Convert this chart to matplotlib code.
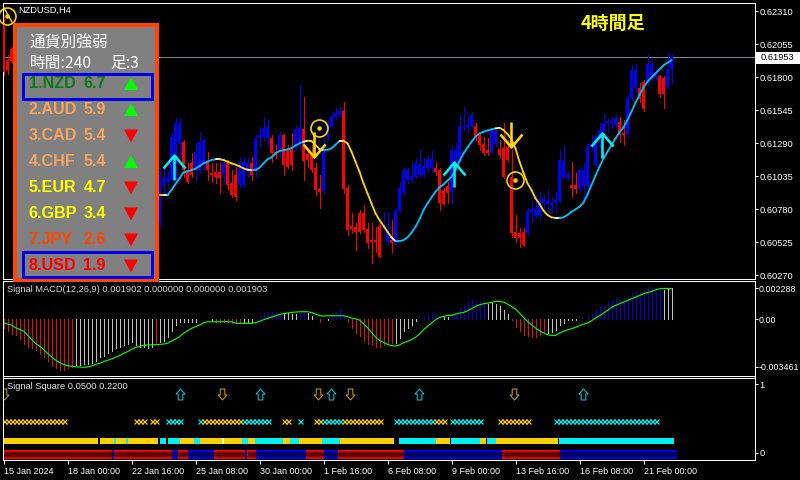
"""NZDUSD H4 チャート: ローソク足 + シグナル線 + MACD + Signal Square + 通貨別強弱パネル."""
import numpy as np
import matplotlib
matplotlib.use("Agg")
import matplotlib.pyplot as plt
from matplotlib.collections import LineCollection
from matplotlib.path import Path
from matplotlib.patches import Rectangle, Polygon

plt.rcParams["font.family"] = ["Liberation Sans", "DejaVu Sans"]
JP = ["Noto Sans CJK JP", "DejaVu Sans"]

# ---------------------------------------------------------------- data
# price is in 1e-5 units; bars 3..38 sit behind the panel and could not be read
head_open = [62217, 61931, 62016]
head_close = [61839, 61854, 61924]
head_high = [62279, 61970, 62034]
head_low = [61815, 61823, 61906]

candle_open = [
    60669, 60965, 60991, 61004, 61184, 61287, 61300, 61081, 61133, 61081, 61081, 61133, 61133, 61056,
    61068, 61068, 61043, 61133, 60978, 61043, 60965, 60965, 61081, 61133, 61081, 61326, 61339, 61326,
    61326, 61223, 61223, 61351, 61235, 61248, 61248, 61287, 61395, 61202, 61197, 61099, 60932, 60921,
    61333, 61416, 61488, 61506, 61537, 60939, 60648, 60643, 60746, 60746, 60625, 60540, 60540, 60651,
    60630, 60527, 60540, 60514, 60767, 60901, 61004, 61004, 61030, 61042, 61042, 61094, 61094, 61099,
    61081, 60919, 60957, 60914, 61145, 61163, 61416, 61416, 61424, 61424, 61351, 61282, 61235, 61223,
    61282, 61243, 61248, 61256, 61030, 60602, 60597, 60604, 60597, 60759, 60726, 60726, 60829, 60819,
    60811, 60824, 60842, 61025, 61022, 60965, 60965, 60932, 60958, 60958, 61262, 61120, 61326, 61378,
    61442, 61442, 61429, 61455, 61365, 61357, 61635, 61712, 61718, 61764, 61751, 61815, 61797, 61810,
    61795, 61720, 61859,
]
candle_close = [
    61043, 61017, 61017, 61339, 61442, 61442, 61081, 60991, 61043, 61223, 61300, 61313, 61081, 61043,
    61030, 61017, 61133, 60965, 60888, 60875, 61133, 61146, 61133, 61043, 61326, 61352, 61403, 61416,
    61210, 61197, 61351, 61120, 61107, 61120, 61395, 61403, 61150, 61158, 61081, 60926, 60914, 61261,
    61421, 61498, 61519, 61537, 60934, 60617, 60622, 60604, 60604, 60617, 60514, 60527, 60527, 60411,
    60656, 60622, 60514, 60772, 60939, 61081, 61081, 61035, 61133, 61125, 61112, 61166, 61166, 61068,
    60823, 60818, 60901, 61235, 61235, 61421, 61424, 61429, 61506, 61333, 61274, 61210, 61215, 61382,
    61382, 61197, 61030, 61158, 60592, 60553, 60553, 60501, 60764, 60777, 60777, 60855, 60855, 60850,
    60829, 60850, 61159, 61151, 61050, 60945, 60935, 61081, 61081, 61269, 61282, 61326, 61390, 61442,
    61460, 61460, 61486, 61352, 61352, 61635, 61854, 61854, 61627, 61550, 61900, 61900, 61828, 61666,
    61666, 61862, 61952,
]
candle_high = [
    61094, 61094, 61068, 61365, 61481, 61481, 61313, 61133, 61210, 61287, 61378, 61326, 61223, 61133,
    61133, 61133, 61184, 61159, 61081, 61107, 61184, 61184, 61172, 61184, 61352, 61416, 61493, 61468,
    61351, 61274, 61364, 61359, 61274, 61364, 61429, 61738, 61648, 61248, 61274, 61133, 61042, 61326,
    61467, 61532, 61570, 61570, 61609, 60965, 60746, 60669, 60772, 60810, 60669, 60669, 60643, 60669,
    60759, 60759, 60695, 60785, 60991, 61107, 61094, 61133, 61171, 61235, 61171, 61197, 61235, 61145,
    61094, 60939, 60991, 61274, 61287, 61506, 61570, 61498, 61532, 61442, 61364, 61339, 61326, 61403,
    61403, 61313, 61442, 61313, 61235, 60733, 60630, 60630, 60785, 60850, 60888, 60914, 60888, 60927,
    60875, 60914, 61236, 61269, 61068, 61146, 61056, 61107, 61133, 61287, 61352, 61352, 61442, 61514,
    61481, 61493, 61506, 61493, 61468, 61661, 61893, 61898, 61751, 61777, 61970, 61931, 61867, 61815,
    61808, 61983, 61978,
]
candle_low = [
    60631, 60901, 60953, 60991, 61004, 61184, 61030, 60978, 61030, 61004, 61056, 61081, 61004, 60991,
    60978, 60901, 60978, 60927, 60875, 60850, 60953, 60953, 61030, 61004, 61030, 61262, 61313, 61262,
    61145, 61171, 61184, 61042, 61094, 61081, 61235, 61248, 61004, 61107, 61068, 60888, 60790, 60901,
    61313, 61403, 61467, 61498, 60901, 60579, 60592, 60463, 60592, 60604, 60476, 60365, 60450, 60406,
    60604, 60514, 60450, 60509, 60759, 60888, 60978, 60991, 61017, 61030, 61030, 61068, 61068, 61042,
    60772, 60810, 60823, 60829, 61133, 61145, 61390, 61364, 61403, 61313, 61235, 61197, 61197, 61210,
    61266, 61184, 61017, 61145, 60566, 60527, 60489, 60494, 60579, 60690, 60721, 60695, 60747, 60721,
    60747, 60759, 60837, 61017, 61004, 60875, 60901, 60922, 60855, 60953, 61236, 61115, 61262, 61365,
    61378, 61403, 61416, 61300, 61274, 61339, 61622, 61687, 61609, 61540, 61738, 61777, 61777, 61648,
    61563, 61712, 61756,
]

# signal line from bar 39 on
signal_line = [
    60888, 60888, 60888, 60927, 60973, 61017, 61063, 61071, 61081, 61092, 61112, 61133, 61146, 61159,
    61164, 61164, 61159, 61146, 61133, 61123, 61110, 61094, 61084, 61081, 61081, 61099, 61133, 61164,
    61179, 61210, 61228, 61235, 61241, 61251, 61272, 61287, 61300, 61308, 61305, 61274, 61243, 61235,
    61238, 61248, 61277, 61305, 61308, 61287, 61223, 61145, 61068, 60978, 60901, 60823, 60746, 60695,
    60651, 60604, 60561, 60532, 60532, 60540, 60561, 60597, 60643, 60700, 60772, 60823, 60870, 60914,
    60947, 60970, 60999, 61030, 61081, 61150, 61210, 61256, 61300, 61339, 61364, 61377, 61387, 61395,
    61403, 61408, 61390, 61359, 61318, 61248, 61145, 61060, 60978, 60927, 60862, 60819, 60767, 60734,
    60716, 60710, 60710, 60716, 60734, 60759, 60777, 60798, 60829, 60893, 60965, 61038, 61107, 61172,
    61223, 61275, 61326, 61372, 61411, 61468, 61532, 61602, 61661, 61720, 61764, 61797, 61828, 61859,
    61890, 61911, 61931,
]
signal_runs = [("g", 2), ("w", 1), ("c", 12), ("w", 1), ("g", 7), ("w", 1), ("c", 13), ("w", 1),
               ("g", 3), ("w", 1), ("c", 4), ("w", 1), ("g", 12), ("w", 1), ("c", 25), ("w", 1),
               ("g", 14), ("w", 1), ("c", 28)]

up_arrows_bar = [42.5, 112.6, 149.5]
up_arrows_tip = [61197, 61146, 61367]
down_arrows_bar = [77.7, 126.8]
down_arrows_tip = [61184, 61259]
ring_bar = [0.9, 78.9, 127.9]
ring_price = [62271, 61406, 61004]

last_price = 0.61953
price_ticks = [0.62310, 0.62055, 0.61800, 0.61545, 0.61290, 0.61035, 0.60780, 0.60525, 0.60270]

# MACD, 1e-6 units
macd_hist = [
    -632, -826, -1045, -1142, -1458, -1774, -1993, -2114, -2211, -2503,
    -2746, -3038, -3378, -3524, -3694, -3694, -3524, -3475, -3329, -3329,
    -3281, -3232, -3208, -3038, -2722, -2649, -2479, -2309, -2114, -1993,
    -1871, -1823, -1628, -1871, -1993, -1993, -2066, -1993, -1823, -1628,
    -1555, -1264, -826, -413, -219, -170, -170, -219, -170, 24,
    0, 0, -97, -170, -170, -170, -219, -243, -292, -243,
    -170, -170, -170, 0, 243, 486, 535, 559, 510, 559,
    486, 437, 365, 365, 486, 535, 486, 267, 0, -219,
    0, -73, 267, 559, 802, 316, -219, -656, -1021, -1191,
    -1555, -1798, -1871, -2041, -1993, -1871, -1798, -1750, -1750, -1385,
    -875, -632, -389, -146, 0, 146, 340, 462, 462, 219,
    146, 146, 389, 510, 826, 948, 1264, 1434, 1434, 1361,
    1069, 1118, 1191, 1118, 948, 656, 413, -24, -559, -875,
    -1166, -1239, -1288, -1288, -1118, -996, -996, -923, -753, -437,
    -267, -73, -73, -24, 0, 0, 219, 462, 656, 875,
    1069, 1312, 1385, 1555, 1434, 1434, 1604, 1993, 1993, 1993,
    2114, 2333, 2333, 2211, 2284, 2163, 2211, 2284,
]
hist_runs = [("r", 18), ("s", 20), ("r", 1), ("s", 10), ("b", 1), ("s", 2), ("s", 1), ("r", 7),
             ("s", 4), ("b", 6), ("s", 4), ("b", 2), ("s", 3), ("r", 1), ("s", 2), ("b", 4),
             ("r", 12), ("s", 7), ("b", 5), ("s", 2), ("b", 9), ("s", 6), ("r", 9), ("s", 10),
             ("b", 19), ("s", 3)]
macd_line = [
    -243, -340, -413, -608, -729, -851, -1142, -1458, -1750, -1944,
    -2187, -2479, -2722, -2965, -3159, -3281, -3378, -3426, -3451, -3475,
    -3499, -3475, -3402, -3281, -3208, -3086, -2989, -2892, -2770, -2649,
    -2479, -2357, -2187, -2041, -1968, -1895, -1871, -1847, -1847, -1823,
    -1798, -1750, -1580, -1434, -1264, -1021, -826, -656, -535, -413,
    -243, -170, -170, -170, -170, -170, -170, -170, -267, -292,
    -292, -292, -292, -243, -146, -24, 73, 170, 267, 365,
    413, 462, 510, 535, 559, 559, 559, 510, 389, 267,
    243, 267, 267, 267, 267, 267, 194, 97, 49, -49,
    -316, -608, -948, -1288, -1531, -1677, -1823, -1920, -1944, -1871,
    -1701, -1604, -1482, -1312, -1069, -753, -510, -267, -24, 146,
    219, 292, 292, 389, 462, 510, 632, 778, 948, 1069,
    1142, 1191, 1239, 1312, 1312, 1264, 1118, 948, 753, 462,
    146, -146, -389, -632, -826, -996, -1118, -1166, -1166, -996,
    -875, -753, -680, -583, -462, -340, -267, -97, 97, 267,
    462, 656, 875, 1021, 1142, 1264, 1385, 1507, 1628, 1750,
    1871, 1968, 2041, 2163, 2236, 2260, 2260, 2236,
]
macd_ticks = [0.002288, 0.0, -0.003461]
macd_ticklabels = ["0.002288", "0.00", "-0.003461"]

# Signal Square
sq_up = [44, 64, 81.8, 103.9, 144.9]
sq_down = [0, 54.5, 78.6, 86.5, 127.6]
sq_x_runs = [("g", 0, 15), ("g", 33, 35), ("g", 37, 38), ("c", 41, 44), ("c", 49, 49), ("g", 50, 59),
             ("c", 60, 61), ("c", 62, 66), ("g", 70, 71), ("c", 74, 74), ("g", 78, 79), ("c", 80, 84),
             ("g", 85, 94), ("c", 98, 107), ("g", 108, 110), ("c", 112, 119), ("g", 124, 131),
             ("c", 138, 142), ("c", 143, 144), ("c", 145, 154), ("c", 155, 163)]
sq_band_runs = [("g", -0.2, 23.7), ("g", 24.1, 27.5), ("c", 27.7, 28.1), ("g", 28.1, 30.6),
                ("c", 30.6, 31.1), ("g", 31.1, 38.7), ("c", 39.1, 40.6), ("c", 41, 44.1),
                ("g", 44.1, 47.6), ("c", 47.6, 49.1), ("g", 49.1, 54.5), ("w", 54.5, 55.1),
                ("g", 55.1, 59.7), ("c", 59.7, 61.2), ("g", 61.2, 62.9), ("c", 62.9, 69.9),
                ("g", 69.9, 71.6), ("c", 71.6, 73.9), ("g", 73.9, 79.5), ("c", 79.7, 84),
                ("g", 84, 97.7), ("c", 98.9, 108), ("g", 108, 111.6), ("c", 111.8, 119.1),
                ("g", 119.1, 120.6), ("c", 120.9, 123), ("g", 123.1, 138.5), ("c", 138.8, 167.6)]
sq_trend_runs = [("r", -0.2, 27), ("b", 27, 27.7), ("r", 27.7, 42.2), ("b", 42.2, 43.7), ("r", 43.7, 46.2),
                 ("b", 46.2, 52.7), ("r", 52.7, 60.4), ("b", 60.4, 60.8), ("r", 60.8, 63.1),
                 ("b", 63.1, 75.6), ("r", 75.6, 80.1), ("b", 80.1, 83.5), ("r", 83.5, 100.2),
                 ("b", 100.2, 124.7), ("r", 124.7, 139), ("b", 139, 168)]

date_bars = [0, 16, 32, 48, 64, 80, 96, 112, 128, 144, 160]
date_labels = ["15 Jan 2024", "18 Jan 00:00", "22 Jan 16:00", "25 Jan 08:00", "30 Jan 00:00", "1 Feb 16:00",
               "6 Feb 08:00", "9 Feb 00:00", "13 Feb 16:00", "16 Feb 08:00", "21 Feb 00:00"]

# 通貨別強弱パネル
cur_names = ["1.NZD", "2.AUD", "3.CAD", "4.CHF", "5.EUR", "6.GBP", "7.JPY", "8.USD"]
cur_values = ["6.7", "5.9", "5.4", "5.4", "4.7", "3.4", "2.6", "1.9"]
cur_up = [True, True, False, True, False, False, False, False]
cur_colors = ["#0a7a14", "#f4a460", "#f4a460", "#f4a460", "#ffff00", "#ffff00", "#ff4500", "#ff0000"]

# ---------------------------------------------------------------- style
C_RED, C_BLUE = "#ff0000", "#0000ff"
C_GOLD, C_CYAN = "#ffd700", "#00bfff"
STATE_LINE = {"g": C_GOLD, "c": C_CYAN, "w": "#ffffff"}
STATE_HIST = {"r": "#e01010", "s": "#c0c0c0", "b": "#0000e0"}
STATE_BAND = {"g": "#ffd000", "c": "#00f0f0", "w": "#e0f8e0"}
STATE_TREND = {"r": ("#c80000", "#ff0000", "#400000"), "b": ("#0000c8", "#0000ff", "#000040")}
PX = 0.72  # 1 pixel in points at dpi 100
BAR0, BAR_STEP = 3.5, 4.0


def expand(runs):
    return [s for s, n in runs for _ in range(n)]


def px_axes(x0, y0, x1, y1):
    ax = fig.add_axes([x0 / 800, 1 - y1 / 480, (x1 - x0) / 800, (y1 - y0) / 480], facecolor="black")
    ax.set_xlim((x0 - BAR0) / BAR_STEP, (x1 - BAR0) / BAR_STEP)
    for sp in ax.spines.values():
        sp.set_color("white")
        sp.set_linewidth(PX)
    ax.yaxis.tick_right()
    ax.tick_params(axis="y", colors="white", length=2, width=PX, labelsize=6.7, pad=1.5)
    ax.tick_params(axis="x", colors="white", length=3, width=PX, labelsize=6.5, pad=2, bottom=False,
                   labelbottom=False)
    return ax


fig = plt.figure(figsize=(8, 4.8), dpi=100, facecolor="black")

# ============================ 上段: ローソク足 ============================
ax = px_axes(2.5, 2.5, 754.5, 278.5)
ax.set_ylim(0.60243, 0.62376)

o = np.r_[head_open, [np.nan] * 36, candle_open] / 1e5
c = np.r_[head_close, [np.nan] * 36, candle_close] / 1e5
h = np.r_[head_high, [np.nan] * 36, candle_high] / 1e5
l = np.r_[head_low, [np.nan] * 36, candle_low] / 1e5
bars = np.arange(len(o))
ok = np.isfinite(o)
cols = np.where(c[ok] >= o[ok], C_BLUE, C_RED)

ax.axhline(last_price, color="#778899", lw=PX, zorder=1)
ax.vlines(bars[ok], l[ok], h[ok], colors=cols, lw=PX, antialiased=False, zorder=2)
ax.bar(bars[ok], np.abs(c[ok] - o[ok]), bottom=np.minimum(o[ok], c[ok]), width=0.75, color=cols, lw=0,
       antialiased=False, zorder=3)

# シグナル線: 区間ごとに色分け
line_y = np.array(signal_line) / 1e5
line_x = np.arange(39, 39 + len(line_y))
line_state = expand(signal_runs)
segs = [[(line_x[i - 1], line_y[i - 1]), (line_x[i], line_y[i])] for i in range(1, len(line_y))]
ax.add_collection(LineCollection(segs, colors=[STATE_LINE[s] for s in line_state[1:]], linewidths=1.3,
                                 capstyle="round", zorder=4))

# 矢印: 先端を原点にしたパス, 頂点は px 相当
up_path = Path([(0, 0), (0, -25), (-11, -13), (0, 0), (11, -13)],
               [Path.MOVETO, Path.LINETO, Path.MOVETO, Path.LINETO, Path.LINETO])
down_path = Path([(0, 0), (0, 25), (-11, 13), (0, 0), (11, 13)],
                 [Path.MOVETO, Path.LINETO, Path.MOVETO, Path.LINETO, Path.LINETO])
ax.plot(up_arrows_bar, np.array(up_arrows_tip) / 1e5, ls="", marker=up_path, ms=50 * PX, mew=2.6 * PX,
        mfc="none", mec="#00f0f0", zorder=6)
ax.plot(down_arrows_bar, np.array(down_arrows_tip) / 1e5, ls="", marker=down_path, ms=50 * PX, mew=2.6 * PX,
        mfc="none", mec=C_GOLD, zorder=6)
ax.plot(ring_bar, np.array(ring_price) / 1e5, ls="", marker="o", ms=17 * PX, mew=1.6 * PX, mfc="none",
        mec=C_GOLD, zorder=7, clip_on=False)
ax.plot(ring_bar, np.array(ring_price) / 1e5, ls="", marker="o", ms=4.5 * PX, mfc=C_GOLD, mec="none", zorder=7,
        clip_on=False)

ax.set_yticks(price_ticks)
ax.set_yticklabels([f"{p:.5f}" for p in price_ticks])

# ============================ 中段: MACD ============================
axm = px_axes(2.5, 280.5, 754.5, 375.5)
axm.set_ylim(-0.004095, 0.00284)
axm.vlines(np.arange(len(macd_hist)), 0, np.array(macd_hist) * 1e-6,
           colors=[STATE_HIST[s] for s in expand(hist_runs)], lw=PX, antialiased=False)
axm.plot(np.arange(len(macd_line)), np.array(macd_line) * 1e-6, color="#00ff00", lw=PX * 1.15)
axm.set_yticks(macd_ticks)
axm.set_yticklabels(macd_ticklabels)
axm.tick_params(axis="y", labelsize=6.4, pad=0.7)

# ============================ 下段: Signal Square ============================
axs = px_axes(2.5, 377.5, 754.5, 459.5)
axs.set_ylim(-0.095, 1.10)
ROW_ARROW, ROW_X = 0.861, 0.467
ROW_BAND, BAND_H = 0.175, 0.088
ROW_TREND, TREND_H = -0.015, 0.115

arrow_up = Path([(0, 5.5), (4.5, 0.5), (2.3, 0.5), (2.3, -5.5), (-2.3, -5.5), (-2.3, 0.5), (-4.5, 0.5), (0, 5.5)],
                closed=True)
arrow_down = Path([(0, -5.5), (4.5, -0.5), (2.3, -0.5), (2.3, 5.5), (-2.3, 5.5), (-2.3, -0.5), (-4.5, -0.5),
                   (0, -5.5)], closed=True)
axs.plot(sq_up, [ROW_ARROW] * len(sq_up), ls="", marker=arrow_up, ms=11 * PX, mew=PX, mfc="none", mec="#00c8e0")
axs.plot(sq_down, [ROW_ARROW] * len(sq_down), ls="", marker=arrow_down, ms=11 * PX, mew=PX, mfc="none",
         mec="#c8a000", clip_on=True)

for st, a, b in sq_x_runs:
    xs = np.arange(a, b + 1)
    axs.plot(xs, [ROW_X] * len(xs), ls="", marker="x", ms=3.6, mew=0.9,
             color="#ffc800" if st == "g" else "#00f0f0")

for st, a, b in sq_band_runs:
    axs.barh(ROW_BAND, b - a, left=a, height=BAND_H, color=STATE_BAND[st], lw=0, antialiased=False)

for st, a, b in sq_trend_runs:
    fill, edge, mark = STATE_TREND[st]
    axs.barh(ROW_TREND, b - a, left=a, height=TREND_H, color=fill, ec=edge, lw=PX, antialiased=False)
    xs = np.arange(np.ceil(a * 2) / 2 + 0.25, b - 0.2, 0.5)
    axs.plot(xs, [ROW_TREND] * len(xs), ls="", marker="x", ms=2.4, mew=0.7, color=mark)

axs.set_yticks([0, 1])
axs.set_yticklabels(["0", "1"])
axs.set_xticks(date_bars)
axs.set_xticklabels(date_labels, ha="left")
axs.tick_params(axis="x", bottom=True, labelbottom=True, length=3, pad=2.5)

# ============================ オーバーレイ (px 座標) ============================
ov = fig.add_axes([0, 0, 1, 1], facecolor="none")
ov.set_xlim(0, 800)
ov.set_ylim(480, 0)
ov.axis("off")

ov.text(18, 10.5, "NZDUSD,H4", color="white", fontsize=6.7, va="center")
ov.text(7, 289.5, "Signal MACD(12,26,9) 0.001902 0.000000 0.000000 0.001903", color="#d8d8d8", fontsize=6.7,
        va="center")
ov.text(7, 386.5, "Signal Square 0.0500 0.2200", color="#e8e8e8", fontsize=6.7, va="center")
ov.text(581, 23, "4時間足", color="#ffff00", fontsize=13, fontweight="bold", family=JP, va="center")

ov.add_patch(Rectangle((755.5, 52), 44, 11.5, fc="white", ec="none"))
ov.text(777.5, 57.8, f"{last_price:.5f}", color="black", fontsize=6.7, ha="center", va="center")

# 左上の矢印の切れ端
ov.plot([4, 12], [8, 22], color=C_GOLD, lw=1.0)

# パネル
ov.add_patch(Rectangle((15, 25), 142, 255, fc="#808080", ec="#ff4500", lw=4 * PX))
ov.text(29.5, 43, "通貨別強弱", color="white", fontsize=11.3, family=JP, va="center")
ov.text(29.5, 63, "時間:240", color="white", fontsize=11.3, family=JP, va="center")
ov.text(110.5, 63, "足:3", color="white", fontsize=11.3, family=JP, va="center")

ROW_Y0, ROW_STEP = 84, 26
for k, (nm, val, up, col) in enumerate(zip(cur_names, cur_values, cur_up, cur_colors)):
    y = ROW_Y0 + k * ROW_STEP
    ov.text(28.5, y, nm, color=col, fontsize=11.6, fontweight="bold", va="center")
    ov.text(83.5, y, val, color=col, fontsize=11.6, fontweight="bold", va="center")
    if up:
        tri = [(131, y - 6.5), (124, y + 6), (138, y + 6)]
    else:
        tri = [(131, y + 6.5), (124, y - 6.5), (138, y - 6.5)]
    ov.add_patch(Polygon(tri, closed=True, fc="#00ff00" if up else "#ff0000", ec="none"))

for y0 in (73.5, 251.5):
    ov.add_patch(Rectangle((22.5, y0), 129.5, 25.5, fc="none", ec="#0000ee", lw=3 * PX))

fig.savefig("out.png", dpi=100, facecolor="black")
plt.close(fig)
